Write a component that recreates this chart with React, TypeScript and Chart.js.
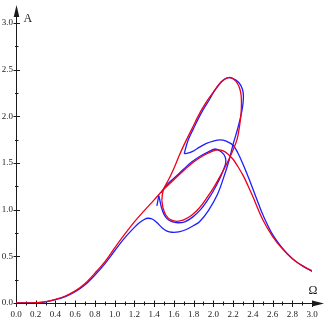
import React, { useEffect, useRef } from "react";
import { Chart, registerables } from "chart.js";
Chart.register(...registerables);

// ---- axis ticks ----
const xTickValues = [0, 0.2, 0.4, 0.6, 0.8, 1.0, 1.2, 1.4, 1.6, 1.8, 2.0, 2.2, 2.4, 2.6, 2.8, 3.0];
const xTickLabels = ["0.0", "0.2", "0.4", "0.6", "0.8", "1.0", "1.2", "1.4", "1.6", "1.8", "2.0", "2.2", "2.4", "2.6", "2.8", "3.0"];
const xMinorTicks = [0.1, 0.3, 0.5, 0.7, 0.9, 1.1, 1.3, 1.5, 1.7, 1.9, 2.1, 2.3, 2.5, 2.7, 2.9];
const yTickValues = [0, 0.5, 1.0, 1.5, 2.0, 2.5, 3.0];
const yTickLabels = ["0.0", "0.5", "1.0", "1.5", "2.0", "2.5", "3.0"];
const yMinorTicks = [0.25, 0.75, 1.25, 1.75, 2.25, 2.75];
const xTitle = "Ω";
const yTitle = "A";

// ---- red curve: main branch ----
const redMainOmega = [0, 0.2, 0.3, 0.4, 0.5, 0.6, 0.7, 0.8, 0.9, 1.0, 1.1, 1.2, 1.3, 1.4, 1.49, 1.6, 1.7, 1.8, 1.9, 2.0, 2.05, 2.1, 2.15, 2.2, 2.25, 2.3, 2.35, 2.4, 2.5, 2.6, 2.7, 2.8, 2.9, 3.0];
const redMainA = [0, 0.003, 0.014, 0.04, 0.075, 0.13, 0.21, 0.32, 0.44, 0.59, 0.735, 0.87, 0.99, 1.105, 1.21, 1.32, 1.42, 1.51, 1.58, 1.63, 1.64, 1.63, 1.595, 1.54, 1.46, 1.37, 1.26, 1.14, 0.895, 0.715, 0.58, 0.475, 0.4, 0.345];

// ---- red curve: closed loop ----
const redLoopOmega = [1.478, 1.485, 1.5, 1.53, 1.56, 1.6, 1.65, 1.71, 1.78, 1.865, 1.94, 2.0, 2.07, 2.12, 2.15, 2.19, 2.23, 2.26, 2.28, 2.285, 2.28, 2.265, 2.24, 2.2, 2.14, 2.07, 2.0, 1.93, 1.86, 1.78, 1.7, 1.63, 1.57, 1.52, 1.49, 1.478];
const redLoopA = [1.1, 1.17, 1.23, 1.29, 1.35, 1.44, 1.57, 1.71, 1.86, 2.04, 2.17, 2.26, 2.355, 2.4, 2.415, 2.41, 2.375, 2.32, 2.24, 2.14, 2.02, 1.89, 1.75, 1.64, 1.5, 1.36, 1.23, 1.12, 1.02, 0.94, 0.89, 0.875, 0.89, 0.94, 1.02, 1.1];

// ---- blue curve: main branch up to the cusp ----
const blueMainOmega = [0, 0.2, 0.3, 0.4, 0.5, 0.6, 0.7, 0.8, 0.9, 1.0, 1.1, 1.2, 1.25, 1.3, 1.335, 1.38, 1.43, 1.48, 1.53, 1.58, 1.65, 1.72, 1.8, 1.86, 1.95, 2.04, 2.1, 2.16, 2.2, 2.25, 2.29, 2.305, 2.295, 2.26, 2.2, 2.14, 2.08, 2.01, 1.955, 1.88, 1.795, 1.75, 1.725, 1.705];
const blueMainA = [0, 0.002, 0.012, 0.035, 0.068, 0.12, 0.195, 0.3, 0.42, 0.56, 0.695, 0.81, 0.86, 0.895, 0.908, 0.9, 0.86, 0.805, 0.77, 0.758, 0.762, 0.785, 0.83, 0.87, 0.99, 1.16, 1.33, 1.53, 1.7, 1.88, 2.06, 2.2, 2.29, 2.36, 2.405, 2.412, 2.37, 2.27, 2.17, 2.04, 1.86, 1.76, 1.68, 1.6];

// ---- blue curve: from the cusp over the upper hump down to 3.0 ----
const blueHumpOmega = [1.705, 1.74, 1.79, 1.86, 1.93, 2.0, 2.066, 2.13, 2.2, 2.25, 2.3, 2.35, 2.4, 2.45, 2.5, 2.6, 2.7, 2.8, 2.9, 3.0];
const blueHumpA = [1.6, 1.605, 1.625, 1.67, 1.71, 1.735, 1.748, 1.735, 1.69, 1.605, 1.49, 1.36, 1.225, 1.085, 0.95, 0.735, 0.588, 0.478, 0.4, 0.338];

// ---- blue curve: spike and inner loop ----
const blueSpikeOmega = [1.428, 1.447];
const blueSpikeA = [1.04, 1.15];
const blueInnerOmega = [1.447, 1.46, 1.475, 1.5, 1.535, 1.58, 1.64, 1.71, 1.79, 1.87, 1.94, 2.0, 2.06, 2.1, 2.125, 2.12, 2.08, 2.02, 1.95, 1.87, 1.78, 1.7, 1.62, 1.56, 1.52, 1.49, 1.47];
const blueInnerA = [1.15, 1.09, 1.02, 0.95, 0.9, 0.872, 0.86, 0.87, 0.92, 1.0, 1.1, 1.2, 1.32, 1.42, 1.5, 1.565, 1.62, 1.65, 1.62, 1.575, 1.51, 1.435, 1.355, 1.3, 1.255, 1.215, 1.18];

const RED = "rgb(238,0,24)";
const BLUE = "rgb(30,30,255)";
const FONT = "'Liberation Serif', 'Times New Roman', serif";

const pts = (xs: number[], ys: number[]) => xs.map((x, i) => ({ x, y: ys[i] }));

const axesPlugin = {
  id: "arrowAxes",
  beforeDatasetsDraw(chart: any) {
    const { ctx } = chart;
    const xs = chart.scales.x;
    const ys = chart.scales.y;
    const x0 = Math.round(xs.getPixelForValue(0)) + 0.5;
    const y0 = Math.round(ys.getPixelForValue(0)) + 0.5;
    const xEnd = xs.getPixelForValue(3);
    const yTop = ys.getPixelForValue(3);
    const xTip = xEnd + 12;
    const yTip = yTop - 18;
    ctx.save();
    ctx.strokeStyle = "#1a1a1a";
    ctx.fillStyle = "#1a1a1a";
    ctx.lineWidth = 1;
    ctx.beginPath();
    ctx.moveTo(x0, y0);
    ctx.lineTo(x0, yTip + 4);
    ctx.moveTo(x0, y0);
    ctx.lineTo(xTip - 4, y0);
    xTickValues.forEach((v) => {
      const p = Math.round(xs.getPixelForValue(v)) + 0.5;
      ctx.moveTo(p, y0 - 3);
      ctx.lineTo(p, y0 + 3.5);
    });
    xMinorTicks.forEach((v) => {
      const p = Math.round(xs.getPixelForValue(v)) + 0.5;
      ctx.moveTo(p, y0 - 2);
      ctx.lineTo(p, y0 + 2);
    });
    yTickValues.forEach((v) => {
      const p = Math.round(ys.getPixelForValue(v)) + 0.5;
      ctx.moveTo(x0 - 3, p);
      ctx.lineTo(x0 + 3.5, p);
    });
    yMinorTicks.forEach((v) => {
      const p = Math.round(ys.getPixelForValue(v)) + 0.5;
      ctx.moveTo(x0 - 1.5, p);
      ctx.lineTo(x0 + 2, p);
    });
    ctx.stroke();
    ctx.beginPath();
    ctx.moveTo(x0, yTip);
    ctx.lineTo(x0 - 2.8, yTip + 12);
    ctx.lineTo(x0 + 2.8, yTip + 12);
    ctx.closePath();
    ctx.fill();
    ctx.beginPath();
    ctx.moveTo(xTip, y0);
    ctx.lineTo(xTip - 11, y0 - 2.8);
    ctx.lineTo(xTip - 11, y0 + 2.8);
    ctx.closePath();
    ctx.fill();
    ctx.font = `12px ${FONT}`;
    ctx.textBaseline = "alphabetic";
    ctx.textAlign = "left";
    ctx.fillText(yTitle, x0 + 7, yTop - 1);
    ctx.textAlign = "center";
    ctx.fillText(xTitle, xEnd + 1, y0 - 10);
    ctx.restore();
  },
};

export default function App() {
  const ref = useRef<HTMLCanvasElement | null>(null);
  useEffect(() => {
    if (!ref.current) return;
    const line = (data: any[], color: string, tension = 0.35) => ({
      data,
      showLine: true,
      borderColor: color,
      backgroundColor: color,
      borderWidth: 1.3,
      pointRadius: 0,
      tension,
      fill: false,
    });
    const chart = new Chart(ref.current, {
      type: "scatter",
      data: {
        datasets: [
          line(pts(redMainOmega, redMainA), RED),
          line(pts(redLoopOmega, redLoopA), RED),
          line(pts(blueMainOmega, blueMainA), BLUE),
          line(pts(blueHumpOmega, blueHumpA), BLUE),
          line(pts(blueSpikeOmega, blueSpikeA), BLUE, 0),
          line(pts(blueInnerOmega, blueInnerA), BLUE),
        ],
      },
      options: {
        animation: false,
        responsive: false,
        maintainAspectRatio: false,
        events: [],
        layout: { padding: { left: 0, right: 15, top: 23, bottom: 0 } },
        plugins: { legend: { display: false }, tooltip: { enabled: false } },
        scales: {
          x: {
            type: "linear",
            min: 0,
            max: 3,
            grid: { display: false, drawTicks: false },
            border: { display: false },
            afterBuildTicks: (s: any) => {
              s.ticks = xTickValues.map((v) => ({ value: v }));
            },
            afterFit: (s: any) => {
              s.height = 24;
            },
            ticks: {
              autoSkip: false,
              maxRotation: 0,
              padding: 6,
              color: "#222",
              font: { family: FONT, size: 9 },
              callback: (_v: any, i: number) => xTickLabels[i],
            },
          },
          y: {
            type: "linear",
            min: 0,
            max: 3,
            grid: { display: false, drawTicks: false },
            border: { display: false },
            afterBuildTicks: (s: any) => {
              s.ticks = yTickValues.map((v) => ({ value: v }));
            },
            afterFit: (s: any) => {
              s.width = 16;
            },
            ticks: {
              autoSkip: false,
              padding: 3,
              color: "#222",
              font: { family: FONT, size: 9 },
              callback: (_v: any, i: number) => yTickLabels[i],
            },
          },
        },
      },
      plugins: [axesPlugin],
    });
    return () => chart.destroy();
  }, []);
  return (
    <div style={{ position: "fixed", left: 0, top: 0, width: 327, height: 327, background: "#fff" }}>
      <canvas ref={ref} width={327} height={327} style={{ display: "block", width: 327, height: 327 }} />
    </div>
  );
}
